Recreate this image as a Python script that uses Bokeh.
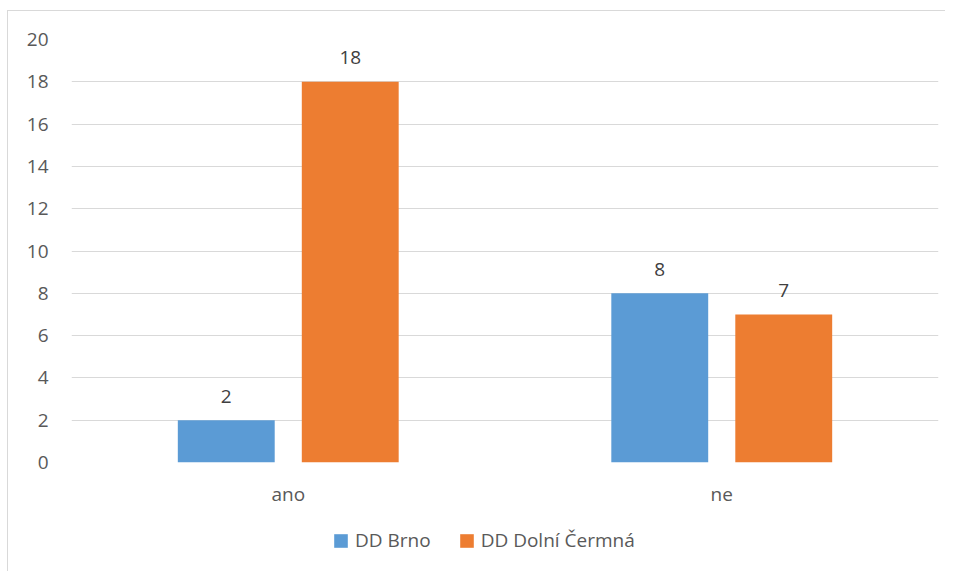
from bokeh.plotting import figure
from bokeh.layouts import column
from bokeh.models import ColumnDataSource, FactorRange, Range1d, Legend, LegendItem, LabelSet, FixedTicker
from bokeh.core.properties import value
from bokeh.transform import dodge
from bokeh.embed import file_html
from bokeh.resources import INLINE

categories = ["ano", "ne"]
series_names = ["DD Brno", "DD Dolní Čermná"]
brno = [2, 8]
cermna = [18, 7]
y_ticks = [0, 2, 4, 6, 8, 10, 12, 14, 16, 18, 20]
colors = ["#5b9bd5", "#ed7d31"]

FONT = "Open Sans"
TXT = "#595959"
GRID = "#d9d9d9"
FS = "19px"

src = ColumnDataSource(dict(
    cat=categories,
    brno=brno,
    cermna=cermna,
    brno_lbl=[str(v) for v in brno],
    cermna_lbl=[str(v) for v in cermna],
))

p = figure(
    x_range=FactorRange(*categories, range_padding=0),
    y_range=Range1d(0, 20),
    width=937, height=515,
    output_backend="svg", toolbar_location=None,
    min_border_left=63, min_border_right=7, min_border_top=28, min_border_bottom=64,
)
p.outline_line_color = None

off = 0.143
w = 0.2235
p.vbar(x=dodge("cat", -off, range=p.x_range), top="brno", width=w, source=src,
       fill_color=colors[0], line_color=None)
p.vbar(x=dodge("cat", off, range=p.x_range), top="cermna", width=w, source=src,
       fill_color=colors[1], line_color=None)

for col, lbl, o in (("brno", "brno_lbl", -off), ("cermna", "cermna_lbl", off)):
    ls = LabelSet(x=dodge("cat", o, range=p.x_range), y=col, text=lbl, source=src,
                  y_offset=24, text_align="center", text_baseline="middle",
                  text_font=value(FONT), text_font_size=value(FS), text_color=value("#404040"))
    p.add_layout(ls)

p.yaxis.ticker = FixedTicker(ticks=y_ticks)
p.ygrid.ticker = FixedTicker(ticks=y_ticks)
p.ygrid.grid_line_color = GRID
p.ygrid.grid_line_width = 1
p.xgrid.grid_line_color = None

for ax in (p.xaxis[0], p.yaxis[0]):
    ax.axis_line_color = None
    ax.major_tick_line_color = None
    ax.minor_tick_line_color = None
    ax.major_tick_out = 0
    ax.major_tick_in = 0
    ax.major_label_text_font = FONT
    ax.major_label_text_font_size = FS
    ax.major_label_text_color = TXT
p.yaxis.major_label_standoff = 23
p.xaxis.major_label_standoff = 18

# legend strip below the chart (its renderers are hidden; only the legend shows)
lf = figure(width=937, height=45, x_range=p.x_range, y_range=Range1d(0, 20),
            output_backend="svg", toolbar_location=None,
            x_axis_location=None, y_axis_location=None,
            min_border_left=0, min_border_right=0, min_border_top=0, min_border_bottom=0)
lf.outline_line_color = None
lf.xgrid.visible = False
lf.ygrid.visible = False
g1 = lf.vbar(x=dodge("cat", -off, range=p.x_range), top="brno", width=w, source=src,
             fill_color=colors[0], line_color=None, visible=False)
g2 = lf.vbar(x=dodge("cat", off, range=p.x_range), top="cermna", width=w, source=src,
             fill_color=colors[1], line_color=None, visible=False)
legend = Legend(
    items=[LegendItem(label=series_names[0], renderers=[g1]),
           LegendItem(label=series_names[1], renderers=[g2])],
    orientation="horizontal", location=(261, 18),
    glyph_width=17, glyph_height=17, label_standoff=6, spacing=27,
    label_height=26,
    padding=0, margin=0, border_line_color=None, background_fill_alpha=0,
    inactive_fill_alpha=0,
    label_text_font=FONT, label_text_font_size=FS, label_text_color=TXT,
)
lf.add_layout(legend, "center")

layout = column(p, lf, spacing=0)
layout.margin = (10, 0, 0, 7)
layout.styles = {"border-left": "1px solid #d9d9d9", "border-top": "1px solid #d9d9d9"}

open("out.html", "w").write(file_html(layout, INLINE))
